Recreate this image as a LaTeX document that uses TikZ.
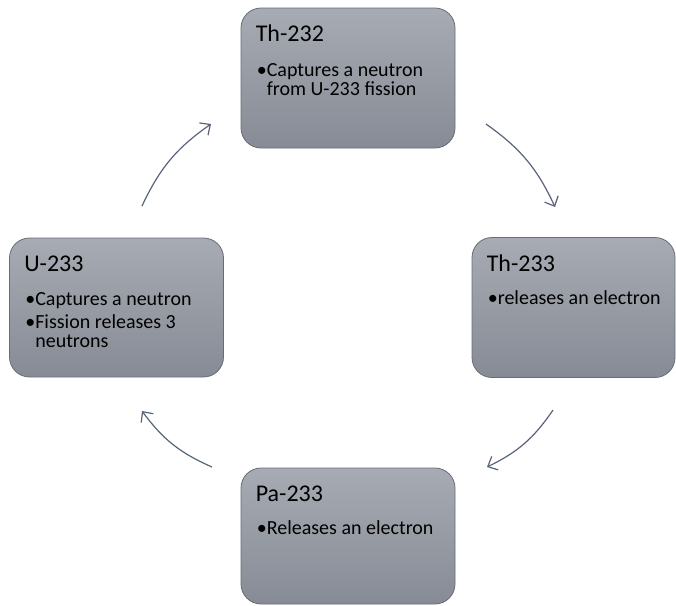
\documentclass[tikz,border=0pt]{standalone}
\usepackage{fontspec}
\setmainfont{Carlito}
\usetikzlibrary{arrows.meta}
\definecolor{boxtop}{RGB}{167,171,179}
\definecolor{boxbot}{RGB}{134,139,149}
\definecolor{boxline}{RGB}{104,109,117}
\definecolor{arrowcol}{RGB}{88,100,122}
\newcommand\tightlines{\fontsize{20}{19}\selectfont\lineskiplimit-30pt\relax}
\newcommand\bulletline[1]{\hbox{\makebox[10pt][l]{•}#1}}
\newcommand\hangline[1]{\hbox{\hspace*{10pt}#1}}
\begin{document}
\begin{tikzpicture}[x=1pt,y=-1pt,
    isotope/.style ={rectangle, draw=boxline, line width=0.8pt, rounded corners=20pt, top color=boxtop, bottom color=boxbot, inner sep=0pt, minimum width=214pt, minimum height=140pt},
    heading/.style ={anchor=base west, inner sep=0pt, font=\fontsize{24}{26}\selectfont},
    bullets/.style ={anchor=base west, inner sep=0pt, font=\tightlines},
    cyclearrow/.style ={draw=arrowcol, line width=1.2pt, -{Straight Barb[length=8pt,width=15pt]}}]
   \useasboundingbox (0,0) rectangle (676,605);
   % boxes
   \node[isotope] (T232) at (348,78) {};
   \node[isotope, minimum width=203pt] (T233) at (573.5,307.5) {};
   \node[isotope, minimum height=136pt] (P233) at (348,536) {};
   \node[isotope, minimum height=139pt] (U233) at (116.5,307.5) {};
   % texts
   \node[heading] (T232h) at ([shift={(15,34)}]T232.north west) {Th-232};
   \node[bullets] (T232b) at ([shift={(16,69)}]T232.north west)
     {\vtop{\bulletline{Captures a neutron}\hangline{from U-233 fission}}};
   \node[heading] (T233h) at ([shift={(15,34)}]T233.north west) {Th-233};
   \node[bullets] (T233b) at ([shift={(16,67)}]T233.north west) {\bulletline{releases an electron}};
   \node[heading] (P233h) at ([shift={(15,34)}]P233.north west) {Pa-233};
   \node[bullets] (P233b) at ([shift={(16,67)}]P233.north west) {\bulletline{Releases an electron}};
   \node[heading] (U233h) at ([shift={(15,34)}]U233.north west) {U-233};
   \node[bullets] (U233b) at ([shift={(16,68)}]U233.north west)
     {\vtop{\bulletline{Captures a neutron}\vskip3.5pt\bulletline{Fission releases 3}\hangline{neutrons}}};
   % arrows
   \coordinate (a1) at (142,206);  \coordinate (b1) at (211,124);
   \coordinate (a2) at (486,124);  \coordinate (b2) at (555,207);
   \coordinate (a3) at (553,410);  \coordinate (b3) at (487,467);
   \coordinate (a4) at (212,467);  \coordinate (b4) at (142,411);
   \draw[cyclearrow] (a1) to[bend left=15] (b1);
   \draw[cyclearrow] (a2) to[bend left=15] (b2);
   \draw[cyclearrow] (a3) to[bend left=15] (b3);
   \draw[cyclearrow] (a4) to[bend left=15] (b4);
 \end{tikzpicture}
\end{document}
